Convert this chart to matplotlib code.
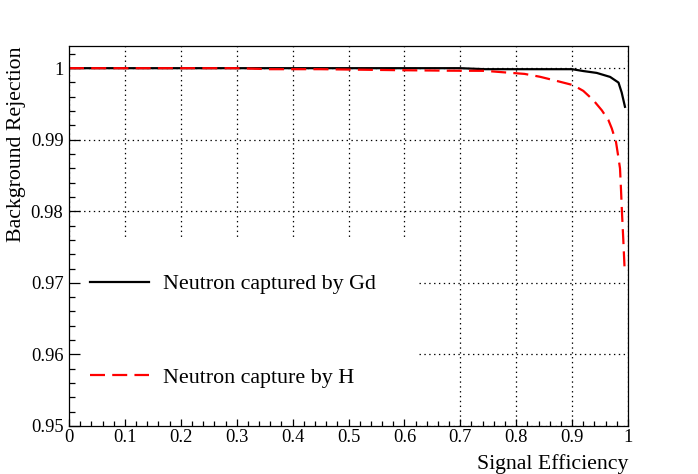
import numpy as np
import matplotlib
matplotlib.use("Agg")
import matplotlib.pyplot as plt
from matplotlib.patches import Rectangle
from matplotlib.ticker import MultipleLocator

plt.rcParams['font.family'] = ['Liberation Serif', 'DejaVu Serif']
plt.rcParams['lines.scale_dashes'] = False

# ROC points
gd_eff = [0.0, 0.1, 0.2, 0.3, 0.4, 0.5, 0.6, 0.7, 0.744, 0.8, 0.85, 0.9,
          0.92, 0.944, 0.968, 0.983, 0.9887, 0.9946]
gd_rej = [1.0, 1.0, 1.0, 1.0, 1.0, 1.0, 1.0, 1.0, 0.99986, 0.99986, 0.99986,
          0.99986, 0.9996, 0.99934, 0.99878, 0.99799, 0.9966, 0.9946]

h_eff = [0.0, 0.1, 0.2, 0.3, 0.36, 0.45, 0.59, 0.68, 0.744, 0.775, 0.815,
         0.8426, 0.872, 0.902, 0.92, 0.938, 0.953, 0.965, 0.971, 0.9785,
         0.9827, 0.9857, 0.9875, 0.9893, 0.9916, 0.994]
h_rej = [1.0, 1.0, 1.0, 1.0, 0.99986, 0.99986, 0.99972, 0.99965, 0.99963,
         0.99944, 0.9992, 0.9988, 0.99823, 0.99763, 0.99683, 0.99553, 0.99413,
         0.99274, 0.99158, 0.9897, 0.9876, 0.986, 0.983, 0.9797, 0.976,
         0.9718]

labels = ["Neutron captured by Gd", "Neutron capture by H"]

xlim = (0, 1)
ylim = (0.95, 1.0031)
pos = [69/698, 48/474, 559/698, 380/474]

fig = plt.figure(figsize=(6.98, 4.74), dpi=100)

# grid lives on its own axes underneath, so the legend box can hide it
gax = fig.add_axes(pos)
gax.set_xlim(*xlim)
gax.set_ylim(*ylim)
gax.xaxis.set_major_locator(MultipleLocator(0.1))
gax.yaxis.set_major_locator(MultipleLocator(0.01))
gax.grid(True, color='black', linestyle=(0, (1, 2.5)), linewidth=0.9)
gax.tick_params(length=0, labelbottom=False, labelleft=False)
for s in gax.spines.values():
    s.set_visible(False)

ax = fig.add_axes(pos)
ax.set_facecolor('none')
ax.set_xlim(*xlim)
ax.set_ylim(*ylim)

# white legend pad covering the grid
ax.add_patch(Rectangle((0, 0), 0.6225, 0.497, transform=ax.transAxes,
                       facecolor='white', edgecolor='none', zorder=1))

ax.plot(gd_eff, gd_rej, color='black', lw=1.6, zorder=2, label=labels[0])
ax.plot(h_eff, h_rej, color='red', lw=1.6, dashes=(10.8, 5.2), zorder=2,
        label=labels[1])

ax.xaxis.set_major_locator(MultipleLocator(0.1))
ax.xaxis.set_minor_locator(MultipleLocator(0.02))
ax.yaxis.set_major_locator(MultipleLocator(0.01))
ax.yaxis.set_minor_locator(MultipleLocator(0.002))
ax.xaxis.set_major_formatter(plt.FuncFormatter(lambda v, p: f"{v:g}"))
ax.yaxis.set_major_formatter(plt.FuncFormatter(lambda v, p: f"{v:g}"))

ax.tick_params(axis='both', which='both', direction='in', top=False,
               right=False, labelsize=13.3, width=0.9)
ax.tick_params(axis='y', which='major', length=8.2, pad=4)
ax.tick_params(axis='y', which='minor', length=4.4)
ax.tick_params(axis='x', which='major', length=5, pad=2.5)
ax.tick_params(axis='x', which='minor', length=3.6)
for s in ax.spines.values():
    s.set_linewidth(0.9)

ax.set_xlabel("Signal Efficiency", fontsize=15.7, loc='right', labelpad=5.5)
ax.set_ylabel("Background Rejection", fontsize=15.7, loc='top', labelpad=3.5)

leg = ax.legend(loc='center left', bbox_to_anchor=(0.0376, 0.25),
                frameon=False, fontsize=15.8, handlelength=2.7,
                handletextpad=0.62, labelspacing=3.33, borderpad=0,
                borderaxespad=0)
leg.set_zorder(5)

fig.savefig("out.png", dpi=100)
